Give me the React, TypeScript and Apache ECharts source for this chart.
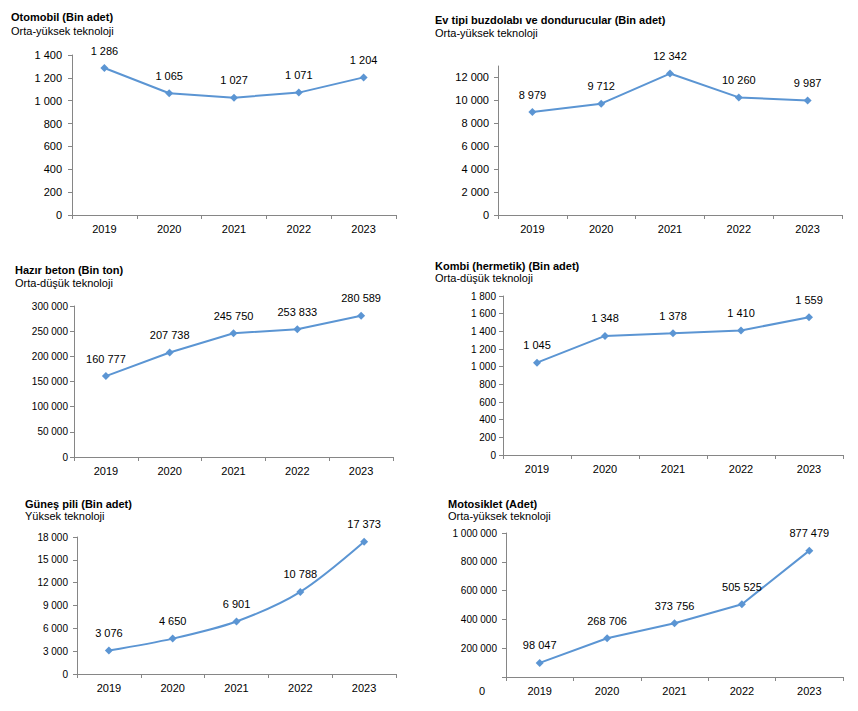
import React, { useEffect, useRef } from "react";
import * as echarts from "echarts";

const years = ["2019", "2020", "2021", "2022", "2023"];

const otomobil = [1286, 1065, 1027, 1071, 1204];
const buzdolabi = [8979, 9712, 12342, 10260, 9987];
const hazirBeton = [160777, 207738, 245750, 253833, 280589];
const kombi = [1045, 1348, 1378, 1410, 1559];
const gunesPili = [3076, 4650, 6901, 10788, 17373];
const motosiklet = [98047, 268706, 373756, 505525, 877479];

const titles = [
  "Otomobil (Bin adet)",
  "Ev tipi buzdolabı ve dondurucular (Bin adet)",
  "Hazır beton (Bin ton)",
  "Kombi (hermetik) (Bin adet)",
  "Güneş pili (Bin adet)",
  "Motosiklet (Adet)",
];
const subtitles = [
  "Orta-yüksek teknoloji",
  "Orta-yüksek teknoloji",
  "Orta-düşük teknoloji",
  "Orta-düşük teknoloji",
  "Yüksek teknoloji",
  "Orta-yüksek teknoloji",
];
const yMax = [1400, 13000, 300000, 1800, 18000, 1000000];
const yInterval = [200, 2000, 50000, 200, 3000, 200000];

const FONT = '"Liberation Sans", Arial, sans-serif';
const LINE = "#5B95D3";

const fmt = (v: number) => String(v).replace(/\B(?=(\d{3})+(?!\d))/g, " ");

export default function App() {
  const ref = useRef<HTMLDivElement>(null);
  useEffect(() => {
    document.body.style.margin = "0";
    const chart = echarts.init(ref.current!, undefined, { renderer: "svg" });
    const seriesData = [otomobil, buzdolabi, hazirBeton, kombi, gunesPili, motosiklet];
    const grids = [
      { left: 72, top: 55, width: 324, height: 160 },
      { left: 498, top: 66, width: 344, height: 149 },
      { left: 74, top: 306, width: 319, height: 151 },
      { left: 503, top: 296, width: 340, height: 159 },
      { left: 77, top: 537, width: 319, height: 137 },
      { left: 506, top: 533, width: 337, height: 144 },
    ];
    const yFont = [11, 11, 10, 10, 10, 10];
    const yMargin = [10, 9, 6, 7, 9, 9];
    const titlePos = [
      [11, 17, 31],
      [435, 20, 33],
      [15, 270, 283],
      [435, 266, 278],
      [25, 504, 516],
      [448, 504, 516],
    ];
    const graphic: any[] = [];
    titlePos.forEach((p, i) => {
      graphic.push({
        type: "text",
        x: p[0],
        y: p[1],
        style: { text: titles[i], fill: "#000", font: `bold 11px ${FONT}`, verticalAlign: "middle" },
      });
      graphic.push({
        type: "text",
        x: p[0],
        y: p[2],
        style: { text: subtitles[i], fill: "#000", font: `11px ${FONT}`, verticalAlign: "middle" },
      });
    });
    graphic.push({
      type: "text",
      x: 482,
      y: 691,
      style: { text: "0", fill: "#000", font: `11px ${FONT}`, align: "center", verticalAlign: "middle" },
    });

    const option: any = {
      animation: false,
      backgroundColor: "#fff",
      textStyle: { fontFamily: FONT },
      grid: grids,
      graphic,
      xAxis: grids.map((_, i) => ({
        type: "category",
        gridIndex: i,
        data: years,
        boundaryGap: true,
        axisLine: { lineStyle: { color: "#868686", width: 1 } },
        axisTick: { show: true, length: 4, lineStyle: { color: "#868686" } },
        axisLabel: { color: "#000", fontSize: 11, fontFamily: FONT, margin: 8 },
        splitLine: { show: false },
      })),
      yAxis: grids.map((_, i) => ({
        type: "value",
        gridIndex: i,
        min: 0,
        max: yMax[i],
        interval: yInterval[i],
        axisLine: { show: true, lineStyle: { color: "#868686", width: 1 } },
        axisTick: { show: true, length: 4, lineStyle: { color: "#868686" } },
        splitLine: { show: false },
        axisLabel: {
          color: "#000",
          fontSize: yFont[i],
          fontFamily: FONT,
          margin: yMargin[i],
          showMaxLabel: yMax[i] % yInterval[i] === 0,
          formatter: (v: number) => {
            if (i === 5 && v === 0) return "";
            if (v % yInterval[i] !== 0) return "";
            return fmt(v);
          },
        },
      })),
      series: seriesData.map((d, i) => ({
        type: "line",
        xAxisIndex: i,
        yAxisIndex: i,
        data: d,
        smooth: i === 4 ? 0.3 : false,
        symbol: "diamond",
        symbolSize: 8,
        lineStyle: { color: LINE, width: 2 },
        itemStyle: { color: LINE },
        label: {
          show: true,
          position: "top",
          distance: 8,
          color: "#000",
          fontSize: 11,
          fontFamily: FONT,
          formatter: (p: any) => fmt(p.value),
        },
      })),
    };
    chart.setOption(option);
    return () => chart.dispose();
  }, []);
  return <div ref={ref} style={{ width: 858, height: 711 }} />;
}
